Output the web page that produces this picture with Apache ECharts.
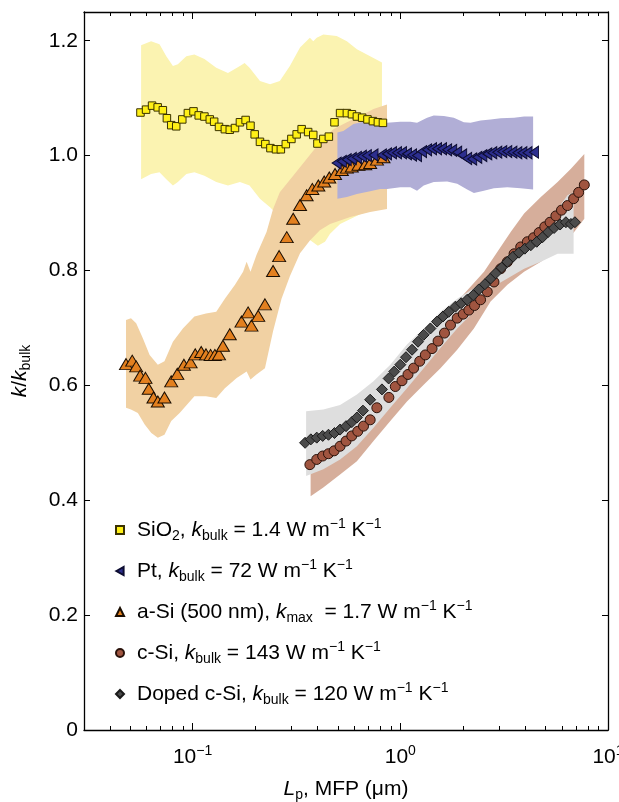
<!DOCTYPE html>
<html><head><meta charset="utf-8">
<script src="https://cdn.jsdelivr.net/npm/echarts@6/dist/echarts.min.js"></script>
<style>html,body{margin:0;padding:0;background:#fff}#c{width:619px;height:802px}</style>
</head><body><div id="c"></div>
<script>
// ---- data: [MFP (um), k/kbulk] ----
const sio2 = [[0.0561,1.075],[0.0597,1.080],[0.0638,1.087],[0.0679,1.084],[0.0719,1.079],[0.0752,1.065],[0.0789,1.053],[0.0834,1.051],[0.0892,1.063],[0.0949,1.074],
[0.101,1.077],[0.107,1.070],[0.114,1.068],[0.121,1.063],[0.127,1.059],[0.134,1.050],[0.143,1.046],[0.151,1.045],[0.160,1.048],[0.169,1.058],
[0.180,1.062],[0.190,1.052],[0.199,1.037],[0.211,1.024],[0.224,1.020],[0.237,1.013],[0.252,1.011],[0.266,1.011],[0.281,1.020],[0.299,1.029],
[0.317,1.037],[0.335,1.046],[0.360,1.041],[0.381,1.036],[0.399,1.021],[0.426,1.029],[0.453,1.033],[0.482,1.058],[0.513,1.074],[0.553,1.074],
[0.585,1.072],[0.618,1.068],[0.655,1.066],[0.695,1.063],[0.738,1.060],[0.780,1.058],[0.825,1.057]];
const pt = [[0.494,0.987],[0.523,0.990],[0.552,0.993],[0.584,0.995],[0.618,0.997],[0.653,0.999],[0.690,1.000],[0.743,1.001],[0.815,1.001],[0.863,1.003],
[0.912,1.005],[0.964,1.005],[1.019,1.005],[1.077,1.003],[1.139,1.001],[1.204,1.000],[1.273,1.007],[1.346,1.010],[1.422,1.012],[1.503,1.012],
[1.589,1.012],[1.681,1.010],[1.778,1.009],[1.879,1.006],[1.986,1.001],[2.099,0.995],[2.219,0.994],[2.348,0.997],[2.483,1.000],[2.624,1.003],
[2.773,1.005],[2.931,1.006],[3.098,1.007],[3.274,1.007],[3.465,1.006],[3.661,1.005],[3.871,1.005],[4.093,1.005],[4.405,1.006]];
const aSi = [[0.0478,0.637],[0.0512,0.643],[0.0535,0.633],[0.0559,0.617],[0.0593,0.613],[0.0615,0.594],[0.0648,0.579],[0.0680,0.572],[0.0732,0.579],[0.0789,0.607],
[0.0844,0.620],[0.0908,0.636],[0.0978,0.640],[0.103,0.654],[0.110,0.658],[0.116,0.654],[0.122,0.653],[0.128,0.653],[0.134,0.654],[0.140,0.669],
[0.151,0.689],[0.172,0.711],[0.185,0.727],[0.192,0.704],[0.207,0.721],[0.223,0.741],[0.244,0.799],[0.261,0.825],[0.284,0.858],[0.305,0.890],
[0.329,0.914],[0.354,0.931],[0.377,0.942],[0.403,0.948],[0.430,0.955],[0.455,0.962],[0.485,0.968],[0.523,0.975],[0.553,0.979],[0.584,0.981],
[0.629,0.984],[0.678,0.985],[0.716,0.987],[0.772,0.993],[0.830,0.997]];
const cSi = [[0.367,0.462],[0.396,0.471],[0.423,0.477],[0.451,0.481],[0.480,0.486],[0.513,0.494],[0.548,0.503],[0.584,0.512],[0.624,0.520],[0.665,0.529],
[0.716,0.540],[0.771,0.561],[0.881,0.579],[0.946,0.598],[1.019,0.608],[1.089,0.619],[1.159,0.630],[1.240,0.642],[1.320,0.653],[1.422,0.664],
[1.520,0.677],[1.632,0.691],[1.744,0.705],[1.879,0.717],[2.009,0.724],[2.138,0.731],[2.277,0.739],[2.435,0.749],[2.622,0.763],[2.825,0.780],
[3.042,0.803],[3.277,0.815],[3.53,0.829],[3.80,0.841],[4.09,0.850],[4.38,0.857],[4.66,0.866],[4.96,0.876],[5.26,0.884],[5.61,0.895],
[5.97,0.905],[6.38,0.913],[6.83,0.925],[7.22,0.936],[7.69,0.949]];
const dopedSi = [[0.348,0.500],[0.371,0.506],[0.396,0.509],[0.423,0.512],[0.451,0.514],[0.482,0.517],[0.513,0.523],[0.548,0.529],[0.584,0.536],[0.618,0.544],
[0.661,0.556],[0.716,0.575],[0.816,0.593],[0.879,0.612],[0.935,0.624],[1.0,0.636],[1.065,0.649],[1.139,0.662],[1.217,0.676],[1.296,0.688],
[1.396,0.699],[1.503,0.711],[1.607,0.720],[1.711,0.728],[1.843,0.737],[1.963,0.743],[2.099,0.749],[2.244,0.757],[2.389,0.767],[2.554,0.776],
[2.722,0.786],[2.877,0.795],[3.075,0.805],[3.277,0.815],[3.49,0.824],[3.73,0.831],[3.98,0.838],[4.25,0.844],[4.54,0.850],[4.84,0.858],
[5.15,0.867],[5.50,0.874],[5.88,0.880],[6.27,0.884],[6.63,0.881],[6.93,0.884]];

// ---- uncertainty bands: upper and lower edges ----
const sio2Hi = [[0.0565,1.192],[0.0631,1.199],[0.0693,1.194],[0.0747,1.173],[0.0804,1.156],[0.0849,1.159],[0.0933,1.173],[0.102,1.176],[0.114,1.168],[0.130,1.153],[0.148,1.144],[0.169,1.156],[0.178,1.161],[0.188,1.153],[0.211,1.130],[0.236,1.124],[0.263,1.130],[0.294,1.156],[0.329,1.188],[0.367,1.205],[0.381,1.199],[0.396,1.205],[0.426,1.211],[0.494,1.208],[0.553,1.199],[0.618,1.185],[0.716,1.173],[0.816,1.162]];
const sio2Lo = [[0.0565,0.959],[0.0631,0.968],[0.0693,0.971],[0.0747,0.959],[0.0804,0.948],[0.0849,0.954],[0.0933,0.968],[0.102,0.971],[0.114,0.965],[0.130,0.954],[0.148,0.948],[0.169,0.954],[0.188,0.948],[0.211,0.925],[0.236,0.910],[0.263,0.893],[0.311,0.870],[0.367,0.853],[0.401,0.843],[0.434,0.850],[0.459,0.864],[0.513,0.881],[0.641,0.898],[0.816,0.910]];
const aSiHi = [[0.0478,0.714],[0.0505,0.717],[0.0535,0.708],[0.0576,0.682],[0.0621,0.653],[0.0680,0.636],[0.0732,0.642],[0.0804,0.676],[0.0898,0.699],[0.102,0.720],[0.116,0.725],[0.130,0.728],[0.143,0.751],[0.160,0.775],[0.175,0.798],[0.182,0.815],[0.190,0.798],[0.203,0.827],[0.227,0.867],[0.244,0.907],[0.263,0.936],[0.305,0.965],[0.354,0.994],[0.410,1.023],[0.476,1.046],[0.553,1.058],[0.641,1.069],[0.743,1.081],[0.863,1.089]];
const aSiLo = [[0.0478,0.561],[0.0505,0.558],[0.0545,0.552],[0.0588,0.532],[0.0633,0.517],[0.0680,0.509],[0.0732,0.514],[0.0789,0.538],[0.0866,0.552],[0.102,0.581],[0.116,0.581],[0.130,0.578],[0.143,0.595],[0.163,0.613],[0.182,0.624],[0.190,0.610],[0.203,0.619],[0.223,0.630],[0.244,0.694],[0.268,0.751],[0.294,0.790],[0.329,0.830],[0.367,0.852],[0.410,0.870],[0.459,0.881],[0.574,0.893],[0.716,0.902],[0.863,0.907]];
const ptHi = [[0.498,1.040],[0.532,1.043],[0.595,1.055],[0.665,1.059],[0.743,1.058],[0.863,1.057],[1.0,1.059],[1.118,1.059],[1.204,1.057],[1.346,1.066],[1.449,1.070],[1.620,1.069],[1.810,1.066],[2.022,1.058],[2.178,1.057],[2.435,1.061],[2.721,1.063],[3.042,1.065],[3.529,1.066],[3.945,1.068],[4.36,1.068]];
const ptLo = [[0.498,0.925],[0.553,0.928],[0.618,0.933],[0.716,0.938],[0.800,0.942],[0.863,0.942],[1.0,0.945],[1.118,0.945],[1.204,0.939],[1.296,0.948],[1.449,0.954],[1.681,0.955],[1.879,0.951],[2.099,0.941],[2.261,0.935],[2.527,0.939],[2.824,0.943],[3.274,0.945],[3.795,0.943],[4.36,0.941]];
const cSiHi = [[0.370,0.480],[0.426,0.491],[0.618,0.543],[0.895,0.619],[1.296,0.688],[1.879,0.746],[2.53,0.798],[2.93,0.832],[3.40,0.867],[3.945,0.899],[4.75,0.928],[5.72,0.954],[6.63,0.977],[7.69,1.003]];
const cSiLo = [[0.370,0.407],[0.426,0.422],[0.513,0.445],[0.618,0.468],[0.743,0.503],[0.895,0.538],[1.077,0.572],[1.296,0.601],[1.561,0.630],[1.879,0.662],[2.261,0.699],[2.721,0.746],[3.277,0.775],[3.945,0.798],[4.75,0.815],[5.72,0.838],[6.87,0.867],[7.69,0.890]];
const dopedHi = [[0.352,0.555],[0.426,0.558],[0.513,0.566],[0.618,0.584],[0.743,0.607],[0.895,0.636],[1.077,0.671],[1.296,0.699],[1.561,0.728],[1.879,0.751],[2.261,0.769],[2.721,0.792],[3.277,0.815],[3.945,0.844],[4.75,0.879],[5.72,0.907],[6.38,0.931],[6.83,0.936]];
const dopedLo = [[0.352,0.442],[0.426,0.454],[0.513,0.471],[0.618,0.494],[0.743,0.526],[0.895,0.561],[1.077,0.595],[1.296,0.630],[1.561,0.665],[1.879,0.699],[2.261,0.728],[2.721,0.769],[3.277,0.786],[3.945,0.803],[4.75,0.815],[5.72,0.829],[6.83,0.829]];

// ---- ticks ----
const xMajorTicks = [0.1, 1, 10];
const xMinorTicks = [0.04,0.05,0.06,0.07,0.08,0.09,0.2,0.3,0.4,0.5,0.6,0.7,0.8,0.9,2,3,4,5,6,7,8,9];
const yTicks = [0, 0.2, 0.4, 0.6, 0.8, 1.0, 1.2];

const legendText = {
  'SiO2': 'SiO{sub|2}, {it|k}{sub|bulk} = 1.4 W m{sup|−1} K{sup|−1}',
  'Pt': 'Pt, {it|k}{sub|bulk} = 72 W m{sup|−1} K{sup|−1}',
  'a-Si': 'a-Si (500 nm), {it|k}{sub|max}  = 1.7 W m{sup|−1} K{sup|−1}',
  'c-Si': 'c-Si, {it|k}{sub|bulk} = 143 W m{sup|−1} K{sup|−1}',
  'Doped c-Si': 'Doped c-Si, {it|k}{sub|bulk} = 120 W m{sup|−1} K{sup|−1}'
};

const FONT = 'Liberation Sans, Arial, Helvetica, sans-serif';
const FS = 21, LH = 26;
const rich = {
  it: {fontStyle: 'italic', fontSize: FS, fontFamily: FONT, lineHeight: LH, color: '#000'},
  sub: {fontSize: 14, fontFamily: FONT, lineHeight: 12, verticalAlign: 'bottom', color: '#000'},
  sup: {fontSize: 14, fontFamily: FONT, lineHeight: 16, verticalAlign: 'top', color: '#000'}
};

function band(hi, lo, color) {
  const pts = hi.concat(lo.slice().reverse());
  return {
    type: 'custom', silent: true, z: 1, data: pts,
    renderItem: function (params, api) {
      if (params.dataIndex !== 0) return null;
      return {type: 'polygon', shape: {points: pts.map(p => api.coord(p))}, style: {fill: color}};
    }
  };
}
function marks(name, data, symbol, size, fill, border) {
  return {name: name, type: 'scatter', data: data, symbol: symbol, symbolSize: size, z: 3,
    itemStyle: {color: fill, borderColor: border, borderWidth: 1, opacity: 1}};
}

const LINE = {show: true, onZero: false, lineStyle: {color: '#000', width: 1.3}};
function xAx(pos, major, showLine) {
  return {type: 'log', logBase: 10, min: 0.03, max: 10, position: pos,
    axisLine: showLine ? LINE : {show: false, onZero: false},
    axisTick: {show: true, inside: true, length: major ? 7 : 4, customValues: major ? xMajorTicks : xMinorTicks, lineStyle: {color: '#000', width: 1}},
    axisLabel: {show: false}, splitLine: {show: false}, minorTick: {show: false}};
}

const chart = echarts.init(document.getElementById('c'), null, {renderer: 'canvas'});
const bottom = xAx('bottom', true, true);
bottom.axisLabel = {show: true, customValues: xMajorTicks, margin: 14, color: '#000', fontSize: FS, fontFamily: FONT,
  formatter: function (v) { const e = Math.round(Math.log10(v)); return '10{sup|' + (e < 0 ? '−' + (-e) : e) + '}'; },
  rich: {sup: {fontSize: 14, fontFamily: FONT, verticalAlign: 'top', lineHeight: 16, color: '#000'}}, lineHeight: LH};
bottom.name = '{it|L}{sub|p}, MFP (μm)';
bottom.nameLocation = 'middle';
bottom.nameGap = 46;
bottom.nameTextStyle = {color: '#000', fontSize: FS, fontFamily: FONT, lineHeight: LH, rich: rich};

chart.setOption({
  animation: false,
  backgroundColor: '#fff',
  grid: {left: 84, right: 11, top: 12, bottom: 72, containLabel: false, outerBoundsMode: 'none'},
  xAxis: [bottom, xAx('bottom', false, false), xAx('top', true, true), xAx('top', false, false)],
  yAxis: [
    {type: 'value', min: 0, max: 1.25, position: 'left',
      axisLine: LINE,
      axisTick: {show: true, inside: true, length: 6, customValues: yTicks, lineStyle: {color: '#000'}},
      axisLabel: {customValues: yTicks, margin: 6, color: '#000', fontSize: FS, fontFamily: FONT,
        formatter: v => v === 0 ? '0' : v.toFixed(1)},
      splitLine: {show: false},
      name: '{it|k}/{it|k}{sub|bulk}', nameLocation: 'middle', nameGap: 51,
      nameTextStyle: {color: '#000', fontSize: FS, fontFamily: FONT, lineHeight: LH, rich: rich}},
    {type: 'value', min: 0, max: 1.25, position: 'right',
      axisLine: LINE,
      axisTick: {show: true, inside: true, length: 6, customValues: yTicks, lineStyle: {color: '#000'}},
      axisLabel: {show: false}, splitLine: {show: false}}
  ],
  legend: {
    orient: 'vertical', left: 110, top: 512, itemWidth: 8, itemHeight: 8, itemGap: 15,
    data: ['SiO2', 'Pt', 'a-Si', 'c-Si', 'Doped c-Si'],
    formatter: n => legendText[n],
    textStyle: {color: '#000', fontSize: FS, fontFamily: FONT, lineHeight: LH, padding: [0, 0, 0, 8], rich: rich},
    selectedMode: false
  },
  series: [
    band(sio2Hi, sio2Lo, '#fbf3b1'),
    band(aSiHi, aSiLo, '#f1d1a3'),
    band(ptHi, ptLo, '#b1aed6'),
    band(cSiHi, cSiLo, '#d6ae9b'),
    band(dopedHi, dopedLo, '#dedede'),
    marks('SiO2', sio2, 'rect', 7.5, '#fff016', '#3a3200'),
    marks('a-Si', aSi, 'triangle', [13, 11], '#e3801f', '#1a0d00'),
    marks('Pt', pt, 'path://M0,5L9,0L9,10Z', [9, 12], '#2c2e8e', '#0c0c30'),
    marks('c-Si', cSi, 'circle', 10, '#a05540', '#2a120a'),
    marks('Doped c-Si', dopedSi, 'diamond', 11, '#4b4b4b', '#1a1a1a')
  ]
});
</script></body></html>
